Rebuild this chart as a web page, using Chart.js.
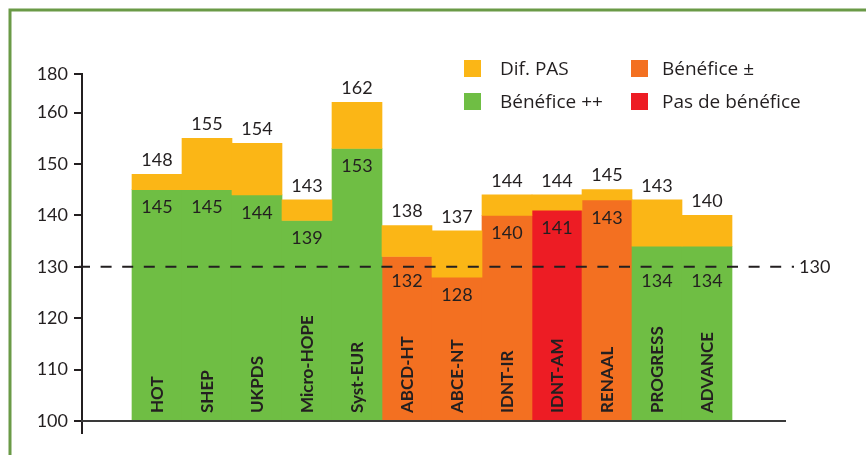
<!DOCTYPE html>
<html>
<head>
<meta charset="utf-8">
<script src="https://cdn.jsdelivr.net/npm/chart.js@4"></script>
<style>
  html, body { margin: 0; padding: 0; background: #ffffff; }
  #wrap { width: 866px; height: 455px; position: relative; }
</style>
</head>
<body>
<div id="wrap"><canvas id="chart" width="866" height="455"></canvas></div>
<script>
// Trials, systolic BP at inclusion and achieved systolic BP (mmHg)
const categories = ['HOT', 'SHEP', 'UKPDS', 'Micro-HOPE', 'Syst-EUR', 'ABCD-HT',
                    'ABCE-NT', 'IDNT-IR', 'IDNT-AM', 'RENAAL', 'PROGRESS', 'ADVANCE'];
const pasInitiale = [148, 155, 154, 143, 162, 138, 137, 144, 144, 145, 143, 140];
const pasAtteinte = [145, 145, 144, 139, 153, 132, 128, 140, 141, 143, 134, 134];
const beneficeGroupe = ['++', '++', '++', '++', '++', '±', '±', '±', '0', '±', '++', '++'];
const yTickLabels = ['100', '110', '120', '130', '140', '150', '160', '180'];
const pasCible = 130;

const INK = '#231f20';
const FONT = 'Lato, "Open Sans", sans-serif';
const LEGEND_FONT = '"Open Sans", Lato, sans-serif';
const COLORS = { dif: '#fbb616', '++': '#6fbe44', '±': '#f37021', '0': '#ed1c24' };

function groupData(code) {
  const out = [];
  categories.forEach((c, i) => {
    if (beneficeGroupe[i] === code) out.push({ x: i + 1, y: [100, pasAtteinte[i]] });
  });
  return out;
}

const barCommon = { grouped: false, barPercentage: 1, categoryPercentage: 1, borderWidth: 0 };

const datasets = [
  Object.assign({ label: 'Dif. PAS', backgroundColor: COLORS.dif,
    data: categories.map((c, i) => ({ x: i + 1, y: [pasAtteinte[i], pasInitiale[i]] })) }, barCommon),
  Object.assign({ label: 'Bénéfice ++', backgroundColor: COLORS['++'], data: groupData('++') }, barCommon),
  Object.assign({ label: 'Bénéfice ±', backgroundColor: COLORS['±'], data: groupData('±') }, barCommon),
  Object.assign({ label: 'Pas de bénéfice', backgroundColor: COLORS['0'], data: groupData('0') }, barCommon)
];

// green frame along the top and left edges
const framePlugin = {
  id: 'frame',
  beforeDraw(chart) {
    const ctx = chart.ctx;
    ctx.save();
    ctx.strokeStyle = '#6a9a47';
    ctx.lineWidth = 3;
    ctx.beginPath();
    ctx.moveTo(10, chart.height);
    ctx.lineTo(10, 10);
    ctx.lineTo(chart.width, 10);
    ctx.stroke();
    ctx.restore();
  }
};

// reference line, value labels and trial names
const annotPlugin = {
  id: 'annot',
  afterDatasetsDraw(chart) {
    const ctx = chart.ctx;
    const xs = chart.scales.x, ys = chart.scales.y;
    const area = chart.chartArea;
    const yRef = ys.getPixelForValue(pasCible);
    ctx.save();
    // dashed target line
    ctx.strokeStyle = INK;
    ctx.lineWidth = 2;
    ctx.setLineDash([11, 10.6]);
    ctx.beginPath();
    ctx.moveTo(area.left - 3, yRef);
    ctx.lineTo(area.right + 9, yRef);
    ctx.stroke();
    ctx.setLineDash([]);
    ctx.fillStyle = INK;
    ctx.font = '18px ' + FONT;
    ctx.textAlign = 'left';
    ctx.textBaseline = 'middle';
    ctx.fillText(String(pasCible), area.right + 14, yRef);

    // value labels
    ctx.textAlign = 'center';
    categories.forEach((c, i) => {
      const x = xs.getPixelForValue(i + 1);
      const yTop = ys.getPixelForValue(pasInitiale[i]);
      ctx.fillText(String(pasInitiale[i]), x, yTop - 14);
      const yLow = ys.getPixelForValue(pasAtteinte[i]);
      let cy = yLow + 18;
      if (Math.abs(cy - yRef) < 12) cy = yRef + 14;
      ctx.fillText(String(pasAtteinte[i]), x, cy);
    });

    // trial names, rotated inside the bars
    ctx.font = 'bold 17px ' + FONT;
    ctx.textAlign = 'left';
    ctx.textBaseline = 'middle';
    const yBase = ys.getPixelForValue(100) - 8;
    categories.forEach((c, i) => {
      const x = xs.getPixelForValue(i + 1) + 1;
      ctx.save();
      ctx.translate(x, yBase);
      ctx.rotate(-Math.PI / 2);
      ctx.fillText(c, 0, 0);
      ctx.restore();
    });
    ctx.restore();
  },
  afterDraw(chart) {
    // legend in two columns
    const ctx = chart.ctx;
    const cols = [{ box: 464, text: 500 }, { box: 631, text: 662 }];
    const rows = [60, 93];
    ctx.save();
    ctx.font = '19px ' + LEGEND_FONT;
    ctx.textAlign = 'left';
    ctx.textBaseline = 'alphabetic';
    chart.data.datasets.forEach((ds, i) => {
      const col = cols[Math.floor(i / 2)];
      const top = rows[i % 2];
      ctx.fillStyle = ds.backgroundColor;
      ctx.fillRect(col.box, top, 17, 17);
      ctx.fillStyle = INK;
      ctx.fillText(ds.label, col.text, top + 15);
    });
    ctx.restore();
  }
};

new Chart(document.getElementById('chart'), {
  type: 'bar',
  data: { datasets },
  plugins: [framePlugin, annotPlugin],
  options: {
    responsive: false,
    animation: false,
    layout: { padding: { left: 0, top: 74, right: 81, bottom: 0 } },
    plugins: { legend: { display: false }, tooltip: { enabled: false } },
    scales: {
      x: {
        type: 'linear',
        offset: false,
        min: -0.5,
        max: 13.56,
        afterBuildTicks(scale) { scale.ticks = [{ value: -0.5 }]; },
        afterFit(scale) { scale.height = 34; },
        ticks: { display: false },
        grid: { offset: false, drawOnChartArea: false, drawTicks: true, tickLength: 13, color: INK, lineWidth: 2 },
        border: { display: true, color: '#3a3a3a', width: 2, z: 1 }
      },
      y: {
        type: 'linear',
        min: 100,
        max: 167.5,
        afterBuildTicks(scale) {
          const last = yTickLabels.length - 1;
          scale.ticks = yTickLabels.map((l, i) => ({ value: i === last ? scale.max : Number(l) }));
        },
        afterFit(scale) { scale.width = 82; },
        ticks: {
          color: INK,
          padding: 6,
          font: { family: FONT, size: 18 },
          callback: (v, i) => yTickLabels[i]
        },
        grid: { drawOnChartArea: false, drawTicks: true, tickLength: 8, color: INK, lineWidth: 2 },
        border: { display: true, color: INK, width: 2 }
      }
    }
  }
});
</script>
</body>
</html>
